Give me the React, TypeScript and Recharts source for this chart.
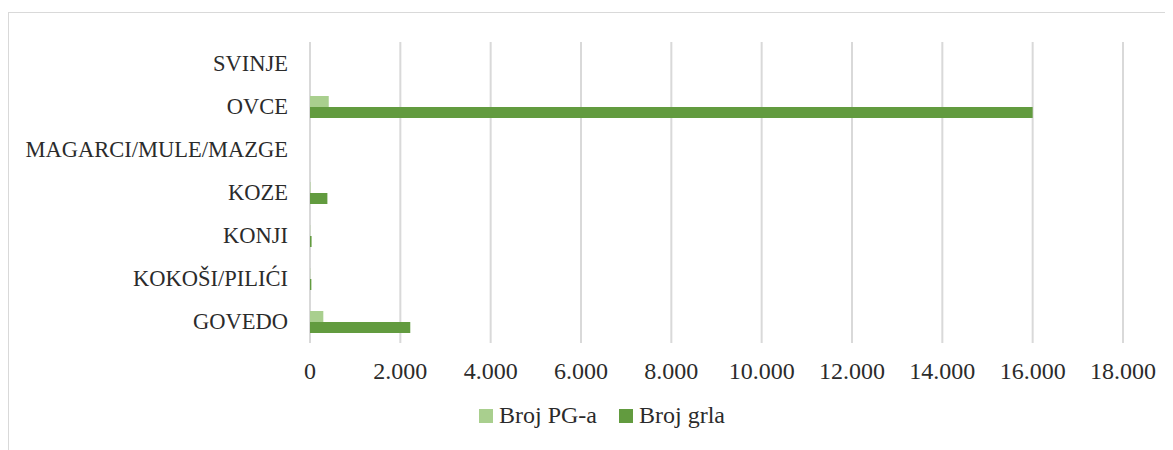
import { Bar, BarChart, CartesianGrid, Legend, XAxis, YAxis } from "recharts";

const categories = ["SVINJE", "OVCE", "MAGARCI/MULE/MAZGE", "KOZE", "KONJI", "KOKOŠI/PILIĆI", "GOVEDO"];
const brojPG = [0, 415, 0, 10, 5, 5, 295];
const brojGrla = [0, 16000, 0, 385, 35, 30, 2220];
const xTicks = [0, 2000, 4000, 6000, 8000, 10000, 12000, 14000, 16000, 18000];

const series = [
  { key: "pg", name: "Broj PG-a", color: "#a9cf8e" },
  { key: "grla", name: "Broj grla", color: "#629b3f" },
];

const data = categories.map((name, i) => ({ name, pg: brojPG[i], grla: brojGrla[i] }));

const font = "'Liberation Serif', serif";
const fmt = (v: number) => v.toLocaleString("de-DE");

function LegendBox() {
  return (
    <div
      style={{
        display: "flex",
        justifyContent: "center",
        paddingLeft: 72,
        fontFamily: font,
        fontSize: 24,
        color: "#2b2b2b",
      }}
    >
      {series.map((s) => (
        <div key={s.key} style={{ display: "flex", alignItems: "center", margin: "0 11px" }}>
          <span style={{ width: 14, height: 14, background: s.color, display: "inline-block", marginRight: 6 }} />
          <span>{s.name}</span>
        </div>
      ))}
    </div>
  );
}

export default function App() {
  return (
    <div style={{ marginTop: 4, width: 1170, height: 445, border: "1px solid #d9d9d9" }}>
      <BarChart
        width={1160}
        height={430}
        data={data}
        layout="vertical"
        margin={{ top: 29, right: 46, left: 0, bottom: 14 }}
        barSize={11}
        barGap={0}
      >
        <CartesianGrid horizontal={false} stroke="#d9d9d9" strokeWidth={2} />
        <XAxis
          type="number"
          domain={[0, 18000]}
          ticks={xTicks}
          tickFormatter={fmt}
          axisLine={false}
          tickLine={false}
          tickSize={0}
          tickMargin={19}
          height={59}
          interval={0}
          tick={{ fontFamily: font, fontSize: 24, fill: "#2b2b2b" }}
        />
        <YAxis
          type="category"
          dataKey="name"
          width={301}
          axisLine={false}
          tickLine={false}
          tickSize={0}
          tickMargin={22}
          interval={0}
          tick={{ fontFamily: font, fontSize: 22.5, fill: "#2b2b2b" }}
        />
        <Legend verticalAlign="bottom" content={() => <LegendBox />} />
        {series.map((s) => (
          <Bar key={s.key} dataKey={s.key} name={s.name} fill={s.color} isAnimationActive={false} />
        ))}
      </BarChart>
    </div>
  );
}
